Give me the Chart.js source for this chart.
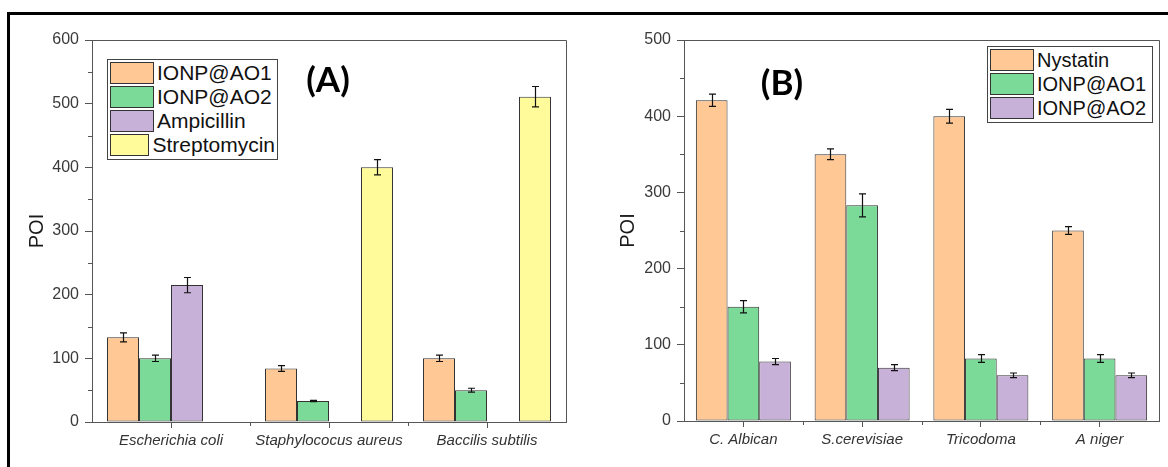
<!DOCTYPE html>
<html>
<head>
<meta charset="utf-8">
<script src="https://cdn.jsdelivr.net/npm/chart.js@4.4.1/dist/chart.umd.min.js"></script>
<style>
    body { margin: 0; width: 1168px; height: 467px; background: #fff; position: relative; overflow: hidden; font-family: "Liberation Sans", Arial, sans-serif; }
    #marco { position: absolute; left: 7px; top: 12px; right: -10px; bottom: -10px; border-left: 3px solid #000; border-top: 3px solid #000; }
    canvas { position: absolute; }
    #graficoA { left: 12px; top: 18px; }
    #graficoB { left: 590px; top: 18px; }
    .leyenda { position: absolute; box-sizing: border-box; border: 1px solid #444; background: #fff; padding: 1px 2px; }
    .fila { display: flex; align-items: center; height: 24px; }
    .muestra { box-sizing: border-box; width: 44px; height: 22px; border: 1px solid #333; margin-right: 3px; }
    .texto { font-size: 20px; color: #111; white-space: nowrap; }
    #leyendaA .texto { font-size: 21px; }
    .panel { position: absolute; font-family: Lato, "Liberation Sans", sans-serif; font-weight: bold; font-size: 35px; color: #000; transform: translate(-50%, -50%); }
</style>
</head>
<body>
<div id="marco"></div>
<canvas id="graficoA" width="558" height="449"></canvas>
<canvas id="graficoB" width="578" height="449"></canvas>
<div class="leyenda" id="leyendaA" style="left:107px; top:59px; width:171px; height:101px;"></div>
<div class="leyenda" id="leyendaB" style="left:987px; top:46px; width:166px; height:77px;"></div>
<div class="panel" style="left:328px; top:78px;">(A)</div>
<div class="panel" style="left:782px; top:81px;">(B)</div>

<script>
// Panel A: bacterias
const categoriasA = ["Escherichia coli", "Staphylococus aureus", "Baccilis subtilis"];
const ionp1A = [133, 84, 100];
const ionp1ErrA = [7, 4.5, 5];
const ionp2A = [100, 33, 50];
const ionp2ErrA = [5, 1, 3];
const ampicilinaA = [215, null, null];
const ampicilinaErrA = [12, 0, 0];
const estreptomicinaA = [null, 400, 511];
const estreptomicinaErrA = [0, 12, 16];
const ticksA = [0, 100, 200, 300, 400, 500, 600];

// Panel B: hongos
const categoriasB = ["C. Albican", "S.cerevisiae", "Tricodoma", "A niger"];
const nistatinaB = [421, 350, 400, 250];
const nistatinaErrB = [8, 7, 9, 5];
const ionp1B = [150, 283, 82, 82];
const ionp1ErrB = [8, 15, 5, 5];
const ionp2B = [78, 70, 60, 60];
const ionp2ErrB = [4, 4, 3, 3];
const ticksB = [0, 100, 200, 300, 400, 500];

const naranja = "#FFC894";
const verde = "#7BDA98";
const morado = "#C8B1D8";
const amarillo = "#FFFA9A";

Chart.defaults.font.family = "'Liberation Sans', Arial, sans-serif";

// marco, ticks menores y barras de error
const marcasExtra = {
    id: "marcasExtra",
    afterDatasetsDraw(chart) {
        const ctx = chart.ctx;
        const ejeY = chart.scales.y;
        ctx.save();
        ctx.strokeStyle = "#111";
        ctx.lineWidth = 1.2;
        chart.data.datasets.forEach((ds, d) => {
            const meta = chart.getDatasetMeta(d);
            ds.data.forEach((valor, j) => {
                if (valor === null || !ds.errores[j]) return;
                const barra = meta.data[j];
                const x = Math.round(barra.x) + 0.5;
                const yArriba = ejeY.getPixelForValue(valor + ds.errores[j]);
                const yAbajo = ejeY.getPixelForValue(valor - ds.errores[j]);
                ctx.beginPath();
                ctx.moveTo(x, yArriba);
                ctx.lineTo(x, yAbajo);
                ctx.moveTo(x - 3.5, yArriba);
                ctx.lineTo(x + 3.5, yArriba);
                ctx.moveTo(x - 3.5, yAbajo);
                ctx.lineTo(x + 3.5, yAbajo);
                ctx.stroke();
            });
        });
        ctx.restore();
    },
    afterDraw(chart) {
        const ctx = chart.ctx;
        const area = chart.chartArea;
        const ejeX = chart.scales.x;
        const ejeY = chart.scales.y;
        ctx.save();
        ctx.strokeStyle = "#555";
        ctx.lineWidth = 1;
        ctx.beginPath();
        // lados superior y derecho
        ctx.moveTo(area.left, Math.round(area.top) + 0.5);
        ctx.lineTo(Math.round(area.right) + 0.5, Math.round(area.top) + 0.5);
        ctx.lineTo(Math.round(area.right) + 0.5, area.bottom);
        // ticks menores del eje Y
        const maxY = ejeY.max;
        for (let v = 50; v < maxY; v += 100) {
            const y = Math.round(ejeY.getPixelForValue(v)) + 0.5;
            ctx.moveTo(area.left - 4, y);
            ctx.lineTo(area.left, y);
        }
        // ticks entre categorias
        const n = chart.data.labels.length;
        for (let i = 1; i < n; i++) {
            const x = Math.round((ejeX.getPixelForValue(i - 1) + ejeX.getPixelForValue(i)) / 2) + 0.5;
            ctx.moveTo(x, area.bottom);
            ctx.lineTo(x, area.bottom + 4);
        }
        ctx.stroke();
        ctx.restore();
    }
};

function crearGrafico(id, categorias, series, ticks, opciones) {
    const ctx = document.getElementById(id).getContext("2d");
    return new Chart(ctx, {
        type: "bar",
        data: {
            labels: categorias,
            datasets: series.map(s => ({
                label: s.nombre,
                data: s.valores,
                errores: s.errores,
                backgroundColor: s.color,
                borderColor: "#333",
                borderWidth: 1,
                borderSkipped: false,
                categoryPercentage: opciones.porcentaje,
                barPercentage: 1
            }))
        },
        options: {
            responsive: false,
            animation: false,
            layout: { padding: { top: 22, right: opciones.derecha, left: 0, bottom: 0 } },
            plugins: {
                legend: { display: false },
                tooltip: { enabled: false }
            },
            scales: {
                x: {
                    offset: true,
                    grid: { offset: false, drawOnChartArea: false, tickLength: 6, color: "#555" },
                    border: { color: "#555" },
                    ticks: { font: { size: 15, style: "italic" }, color: "#333", padding: 4, maxRotation: 0 },
                    afterFit: (eje) => { eje.height = opciones.altoX; }
                },
                y: {
                    min: ticks[0],
                    max: ticks[ticks.length - 1],
                    ticks: { stepSize: 100, font: { size: 16 }, color: "#3a3a3a", padding: 6 },
                    grid: { drawOnChartArea: false, tickLength: 7, color: "#555" },
                    border: { color: "#555" },
                    title: { display: true, text: "POI", font: { size: 20 }, color: "#1a1a1a", padding: { top: opciones.tituloY, bottom: 0 } },
                    afterFit: (eje) => { eje.width = opciones.anchoY; }
                }
            }
        },
        plugins: [marcasExtra]
    });
}

function construirLeyenda(id, series) {
    const caja = document.getElementById(id);
    series.forEach(s => {
        const fila = document.createElement("div");
        fila.className = "fila";
        fila.innerHTML = `<div class="muestra" style="background:${s.color}"></div><span class="texto">${s.nombre}</span>`;
        caja.appendChild(fila);
    });
}

const seriesA = [
    { nombre: "IONP@AO1", valores: ionp1A, errores: ionp1ErrA, color: naranja },
    { nombre: "IONP@AO2", valores: ionp2A, errores: ionp2ErrA, color: verde },
    { nombre: "Ampicillin", valores: ampicilinaA, errores: ampicilinaErrA, color: morado },
    { nombre: "Streptomycin", valores: estreptomicinaA, errores: estreptomicinaErrA, color: amarillo }
];

const seriesB = [
    { nombre: "Nystatin", valores: nistatinaB, errores: nistatinaErrB, color: naranja },
    { nombre: "IONP@AO1", valores: ionp1B, errores: ionp1ErrB, color: verde },
    { nombre: "IONP@AO2", valores: ionp2B, errores: ionp2ErrB, color: morado }
];

crearGrafico("graficoA", categoriasA, seriesA, ticksA, { porcentaje: 0.81, derecha: 4, altoX: 45, anchoY: 80, tituloY: 13 });
crearGrafico("graficoB", categoriasB, seriesB, ticksB, { porcentaje: 0.80, derecha: 9, altoX: 46, anchoY: 94, tituloY: 26 });

construirLeyenda("leyendaA", seriesA);
construirLeyenda("leyendaB", seriesB);
</script>
</body>
</html>
